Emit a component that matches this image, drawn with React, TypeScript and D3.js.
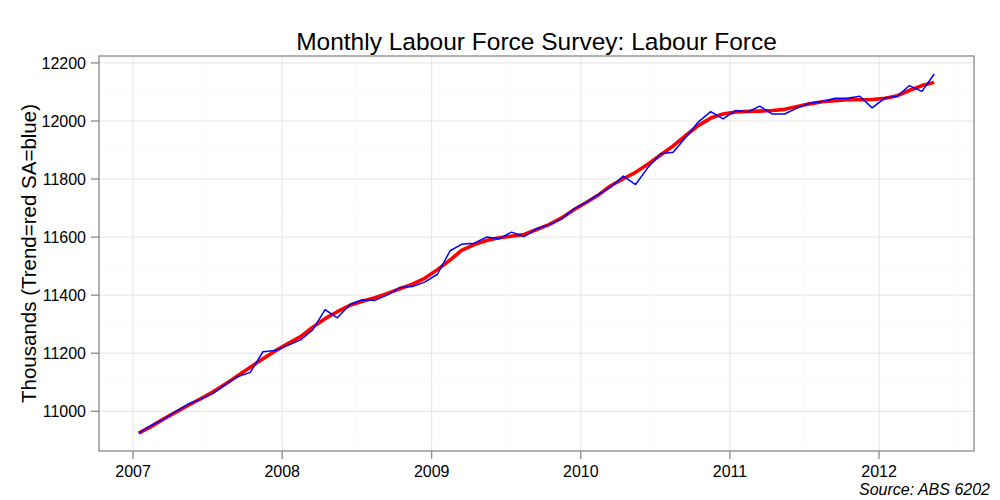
import React from "react";
import * as d3 from "d3";

const startYear = 2007;
const saValues = [
  10925, 10952, 10971, 10999, 11024, 11042, 11061, 11092, 11120, 11134, 11205, 11209,
  11227, 11246, 11279, 11350, 11322, 11368, 11384, 11382, 11401, 11426, 11430, 11445,
  11472, 11553, 11575, 11579, 11600, 11594, 11617, 11602, 11629, 11642, 11663, 11697,
  11720, 11749, 11772, 11810, 11781, 11841, 11887, 11892, 11944, 11996, 12032, 12007,
  12036, 12032, 12051, 12024, 12024, 12045, 12061, 12067, 12078, 12078, 12085, 12045,
  12079, 12085, 12122, 12102, 12162,
];
const trendValues = [
  10925, 10948, 10972, 10996, 11020, 11043, 11066, 11094, 11123, 11152, 11181, 11208,
  11233, 11257, 11289, 11319, 11343, 11365, 11379, 11391, 11406, 11422, 11438, 11458,
  11488, 11521, 11554, 11574, 11588, 11598, 11603, 11609, 11626, 11643, 11666, 11694,
  11720, 11747, 11777, 11801, 11823, 11852, 11883, 11914, 11950, 11984, 12010, 12024,
  12031, 12033, 12034, 12036, 12040, 12050, 12059, 12066, 12070, 12073, 12073, 12074,
  12078, 12087, 12105, 12122, 12133,
];
const yTicks = [11000, 11200, 11400, 11600, 11800, 12000, 12200];
const yMinor = [10900, 11100, 11300, 11500, 11700, 11900, 12100];
const xTickYears = [2007, 2008, 2009, 2010, 2011, 2012];
const xMinorYears = [2007.5, 2008.5, 2009.5, 2010.5, 2011.5, 2012.5];
const title = "Monthly Labour Force Survey: Labour Force";
const yLabel = "Thousands (Trend=red SA=blue)";
const caption = "Source: ABS 6202";

const dates = saValues.map((_, i) => new Date(startYear, i, 15));

export default function App() {
  const W = 1000, H = 500;
  const left = 99, right = 974, top = 56, bottom = 451;
  const font = "'Liberation Sans', Arial, Helvetica, sans-serif";

  const t0 = +dates[0], t1 = +dates[dates.length - 1];
  const tpad = (t1 - t0) * 0.05;
  const x = d3.scaleTime().domain([new Date(t0 - tpad), new Date(t1 + tpad)]).range([left, right]);
  const all = saValues.concat(trendValues);
  const vmin = d3.min(all)!, vmax = d3.max(all)!;
  const vpad = (vmax - vmin) * 0.05;
  const y = d3.scaleLinear().domain([vmin - vpad, vmax + vpad]).range([bottom, top]);

  const yearDate = (yr: number) => {
    const whole = Math.floor(yr);
    const frac = yr - whole;
    return new Date(whole, frac > 0 ? 6 : 0, 1);
  };

  const lineSA = d3.line<number>().x((_, i) => x(dates[i])).y((d) => y(d));
  const lineTrend = d3.line<number>().x((_, i) => x(dates[i])).y((d) => y(d));

  return (
    <svg width={W} height={H} style={{ position: "absolute", left: 0, top: 0, background: "#fff" }} fontFamily={font}>
      <rect x={0} y={0} width={W} height={H} fill="#fff" />
      {/* minor grid */}
      {yMinor.map((v) => (
        <line key={"ym" + v} x1={left} x2={right} y1={y(v)} y2={y(v)} stroke="#fafafa" strokeWidth={1} />
      ))}
      {xMinorYears.map((v) => (
        <line key={"xm" + v} x1={x(yearDate(v))} x2={x(yearDate(v))} y1={top} y2={bottom} stroke="#fafafa" strokeWidth={1} />
      ))}
      {/* major grid */}
      {yTicks.map((v) => (
        <line key={"yg" + v} x1={left} x2={right} y1={y(v)} y2={y(v)} stroke="#e5e5e5" strokeWidth={1} />
      ))}
      {xTickYears.map((v) => (
        <line key={"xg" + v} x1={x(yearDate(v))} x2={x(yearDate(v))} y1={top} y2={bottom} stroke="#e5e5e5" strokeWidth={1} />
      ))}
      {/* lines */}
      <path d={lineTrend(trendValues) || ""} fill="none" stroke="#ff0000" strokeWidth={3.6} strokeLinejoin="round" strokeLinecap="butt" />
      <path d={lineSA(saValues) || ""} fill="none" stroke="#0000ff" strokeWidth={1.5} strokeLinejoin="round" />
      {/* panel border */}
      <rect x={left} y={top} width={right - left} height={bottom - top} fill="none" stroke="#7f7f7f" strokeWidth={1.2} />
      {/* y axis */}
      {yTicks.map((v) => (
        <g key={"yt" + v}>
          <line x1={left - 8} x2={left} y1={y(v)} y2={y(v)} stroke="#7f7f7f" strokeWidth={1.2} />
          <text x={left - 13} y={y(v)} dy="0.36em" textAnchor="end" fontSize={16} fill="#000">
            {v}
          </text>
        </g>
      ))}
      {/* x axis */}
      {xTickYears.map((v) => (
        <g key={"xt" + v}>
          <line x1={x(yearDate(v))} x2={x(yearDate(v))} y1={bottom} y2={bottom + 8} stroke="#7f7f7f" strokeWidth={1.2} />
          <text x={x(yearDate(v))} y={bottom + 26} textAnchor="middle" fontSize={16} fill="#000">
            {v}
          </text>
        </g>
      ))}
      <text x={(left + right) / 2} y={50} textAnchor="middle" fontSize={24.5} fill="#000">
        {title}
      </text>
      <text
        transform={`translate(36,${(top + bottom) / 2}) rotate(-90)`}
        textAnchor="middle"
        fontSize={20.5}
        fill="#000"
      >
        {yLabel}
      </text>
      <text x={990} y={495} textAnchor="end" fontSize={16} fontStyle="italic" fill="#000">
        {caption}
      </text>
    </svg>
  );
}
